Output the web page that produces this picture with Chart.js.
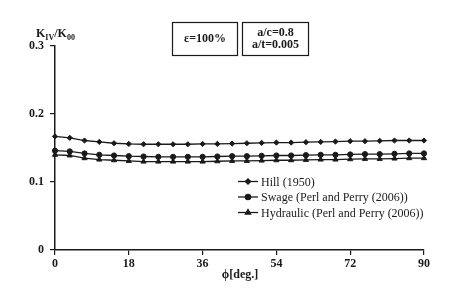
<!DOCTYPE html>
<html>
<head>
<meta charset="utf-8">
<script src="https://cdn.jsdelivr.net/npm/chart.js@4.4.1/dist/chart.umd.min.js"></script>
<style>
  html, body { margin: 0; padding: 0; background: #fff; }
  #wrap { width: 455px; height: 295px; position: relative; }
</style>
</head>
<body>
<div id="wrap"><canvas id="kChart" width="455" height="295"></canvas></div>
<script>
// angle phi [deg.]
const phi = [0, 3.6, 7.2, 10.8, 14.4, 18, 21.6, 25.2, 28.8, 32.4, 36, 39.6, 43.2,
             46.8, 50.4, 54, 57.6, 61.2, 64.8, 68.4, 72, 75.6, 79.2, 82.8, 86.4, 90];

const hill = [0.167, 0.165, 0.161, 0.159, 0.157, 0.156, 0.1555, 0.1555, 0.1555, 0.1555,
              0.156, 0.156, 0.1565, 0.157, 0.1575, 0.158, 0.158, 0.1585, 0.159, 0.1595,
              0.160, 0.160, 0.1605, 0.161, 0.161, 0.161];

const swage = [0.146, 0.145, 0.142, 0.140, 0.139, 0.138, 0.1375, 0.137, 0.137, 0.137,
               0.137, 0.1375, 0.138, 0.138, 0.1385, 0.139, 0.139, 0.1395, 0.140, 0.140,
               0.1405, 0.141, 0.141, 0.1415, 0.142, 0.142];

const hydraulic = [0.140, 0.139, 0.135, 0.133, 0.132, 0.131, 0.130, 0.130, 0.130, 0.130,
                   0.130, 0.1305, 0.131, 0.131, 0.1315, 0.132, 0.132, 0.1325, 0.133, 0.133,
                   0.1335, 0.134, 0.134, 0.1345, 0.135, 0.135];

const seriesNames = ["Hill (1950)", "Swage (Perl and Perry (2006))", "Hydraulic (Perl and Perry (2006))"];
const xTicks = [0, 18, 36, 54, 72, 90];
const yTicks = [0, 0.1, 0.2, 0.3];

const SERIF = "'Liberation Serif', 'DejaVu Serif', serif";
const INK = "#1a1a1a";

function pts(ys) {
    return ys.map((v, i) => ({ x: phi[i], y: v }));
}

// boxes, axis title and legend drawn on top
const decor = {
    id: "decor",
    afterDraw(chart) {
        const ctx = chart.ctx;
        ctx.save();
        ctx.fillStyle = INK;
        ctx.strokeStyle = INK;

        // y title K_IV/K_00
        let x = 36;
        const base = 37;
        const parts = [["K", 0, 12], ["IV", 3, 8], ["/K", 0, 12], ["00", 3, 8]];
        ctx.textBaseline = "alphabetic";
        ctx.textAlign = "left";
        parts.forEach(([t, dy, sz]) => {
            ctx.font = "bold " + sz + "px " + SERIF;
            ctx.fillText(t, x, base + dy);
            x += ctx.measureText(t).width;
        });

        // parameter boxes
        ctx.lineWidth = 1.2;
        ctx.strokeRect(172.5, 22.5, 65, 33);
        ctx.strokeRect(242.5, 22.5, 66, 33);
        ctx.font = "bold 12px " + SERIF;
        ctx.textAlign = "center";
        ctx.textBaseline = "middle";
        ctx.fillText("\u03b5=100%", 205, 39);
        ctx.fillText("a/c=0.8", 275.5, 33);
        ctx.fillText("a/t=0.005", 275.5, 45);

        // x axis title
        ctx.fillText("\u03d5[deg.]", 240, 275);

        // legend
        ctx.textAlign = "left";
        ctx.font = "12px " + SERIF;
        chart.data.datasets.forEach((ds, i) => {
            const y = 181.5 + i * 15.5;
            ctx.lineWidth = 1.3;
            ctx.beginPath();
            ctx.moveTo(238, y);
            ctx.lineTo(258, y);
            ctx.stroke();
            Chart.helpers.drawPoint(ctx, {
                pointStyle: ds.pointStyle,
                radius: ds.pointRadius,
                rotation: 0,
                borderWidth: 1
            }, 248, y);
            ctx.fill();
            ctx.fillText(ds.label, 261, y + 1);
        });
        ctx.restore();
    }
};

const whiteBg = {
    id: "whiteBg",
    beforeDraw(chart) {
        const ctx = chart.ctx;
        ctx.save();
        ctx.fillStyle = "#fff";
        ctx.fillRect(0, 0, chart.width, chart.height);
        ctx.restore();
    }
};

const baseSet = {
    borderColor: INK,
    backgroundColor: INK,
    pointBorderColor: INK,
    pointBackgroundColor: INK,
    borderWidth: 1.3,
    pointBorderWidth: 1,
    tension: 0,
    clip: false
};

new Chart(document.getElementById("kChart").getContext("2d"), {
    type: "line",
    data: {
        datasets: [
            { ...baseSet, label: seriesNames[0], data: pts(hill), pointStyle: "rectRot", pointRadius: 2.6 },
            { ...baseSet, label: seriesNames[1], data: pts(swage), pointStyle: "circle", pointRadius: 2.6 },
            { ...baseSet, label: seriesNames[2], data: pts(hydraulic), pointStyle: "triangle", pointRadius: 3 }
        ]
    },
    options: {
        responsive: false,
        animation: false,
        devicePixelRatio: 1,
        layout: { padding: { top: 46, right: 31, left: 0, bottom: 0 } },
        plugins: {
            legend: { display: false },
            tooltip: { enabled: false }
        },
        scales: {
            x: {
                type: "linear",
                min: 0,
                max: 90,
                afterBuildTicks(scale) {
                    scale.ticks = xTicks.map(v => ({ value: v }));
                },
                afterFit(scale) { scale.height = 45; },
                border: { color: INK, width: 1.5 },
                grid: { drawOnChartArea: false, tickLength: 5, color: INK, tickColor: INK, lineWidth: 1.2 },
                ticks: {
                    color: INK,
                    padding: 2,
                    maxRotation: 0,
                    font: { family: SERIF, size: 12, weight: "bold" }
                }
            },
            y: {
                min: 0,
                max: 0.3,
                afterBuildTicks(scale) {
                    scale.ticks = yTicks.map(v => ({ value: v }));
                },
                afterFit(scale) { scale.width = 55; },
                border: { color: INK, width: 1.5 },
                grid: { drawOnChartArea: false, tickLength: 5, color: INK, tickColor: INK, lineWidth: 1.2 },
                ticks: {
                    color: INK,
                    padding: 6,
                    callback: v => String(v),
                    font: { family: SERIF, size: 12, weight: "bold" }
                }
            }
        }
    },
    plugins: [whiteBg, decor]
});
</script>
</body>
</html>
